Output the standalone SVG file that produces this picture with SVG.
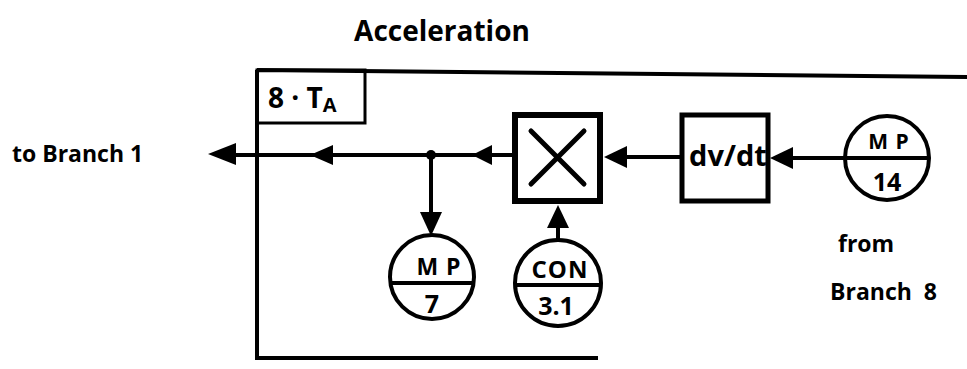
<svg xmlns="http://www.w3.org/2000/svg" width="967" height="369" viewBox="0 0 967 369">
<defs>
<style>
text{font-family:"Open Sans","Liberation Sans",sans-serif;font-weight:bold;fill:#000}
.ln{stroke:#000;fill:none;stroke-width:4}
.circ{stroke:#000;fill:#fff;stroke-width:4}
.lbl{font-size:23px}
.ctxt{text-anchor:middle}
.top{font-size:23px;letter-spacing:1px}
.num{font-size:25px}
</style>
</defs>
<rect width="967" height="369" fill="#fff"/>
<text x="442" y="41" font-size="28" text-anchor="middle">Acceleration</text>
<g id="frame">
<path class="ln" d="M257,70 L967,77 M257,70 L257,358 L598,358" stroke-width="3.5"/>
</g>
<g id="ta-box">
<rect x="257" y="70" width="108" height="53" fill="none" stroke="#000" stroke-width="3"/>
<text x="268" y="108" font-size="28">8 · T<tspan font-size="20" dy="4">A</tspan></text>
</g>
<g id="connectors">
<line class="ln" x1="513" y1="155" x2="235" y2="155"/>
<polygon points="208,154 236,143 236,165" fill="#000"/>
<polygon points="310,155 333,145 333,165" fill="#000"/>
<polygon points="472,155 492,145 492,165" fill="#000"/>
<circle cx="431" cy="155" r="5" fill="#000"/>
<line class="ln" x1="431" y1="155" x2="431" y2="215"/>
<polygon points="431,236 420,212 442,212" fill="#000"/>
<line class="ln" x1="558" y1="240" x2="558" y2="225"/>
<polygon points="558,205 547,228 569,228" fill="#000"/>
<line class="ln" x1="680" y1="157" x2="625" y2="157"/>
<polygon points="604,157 627,146 627,168" fill="#000"/>
<line class="ln" x1="845" y1="158" x2="790" y2="158"/>
<polygon points="770,158 793,147 793,169" fill="#000"/>
</g>
<g id="mult">
<rect x="515" y="115" width="85" height="86" fill="#fff" stroke="#000" stroke-width="6"/>
<path d="M531,131 L584,184 M584,131 L531,184" stroke="#000" stroke-width="5" stroke-linecap="round"/>
</g>
<g id="dvdt">
<rect x="682" y="115" width="86" height="86" fill="#fff" stroke="#000" stroke-width="5"/>
<text x="728" y="166" font-size="29" text-anchor="middle">dv/dt</text>
</g>
<g id="mp14">
<circle class="circ" cx="887" cy="158" r="42"/>
<line class="ln" x1="845" y1="158" x2="929" y2="158"/>
<text class="ctxt top" x="889" y="149" style="font-size:21px">M P</text>
<text class="ctxt num" x="887" y="191">14</text>
</g>
<g id="mp7">
<circle class="circ" cx="432" cy="277" r="42"/>
<line class="ln" x1="390" y1="283" x2="474" y2="283"/>
<text class="ctxt top" x="439" y="275">M P</text>
<text class="ctxt num" x="432" y="313">7</text>
</g>
<g id="con">
<circle class="circ" cx="558" cy="283" r="43"/>
<line class="ln" x1="515" y1="285" x2="601" y2="285"/>
<text class="ctxt top" x="560" y="278" style="font-size:24px">CON</text>
<text class="ctxt num" x="556" y="315">3.1</text>
</g>
<text class="lbl" x="12" y="162">to Branch 1</text>
<text class="lbl" x="838" y="252">from</text>
<text class="lbl" x="830" y="300" xml:space="preserve">Branch  8</text>
</svg>
